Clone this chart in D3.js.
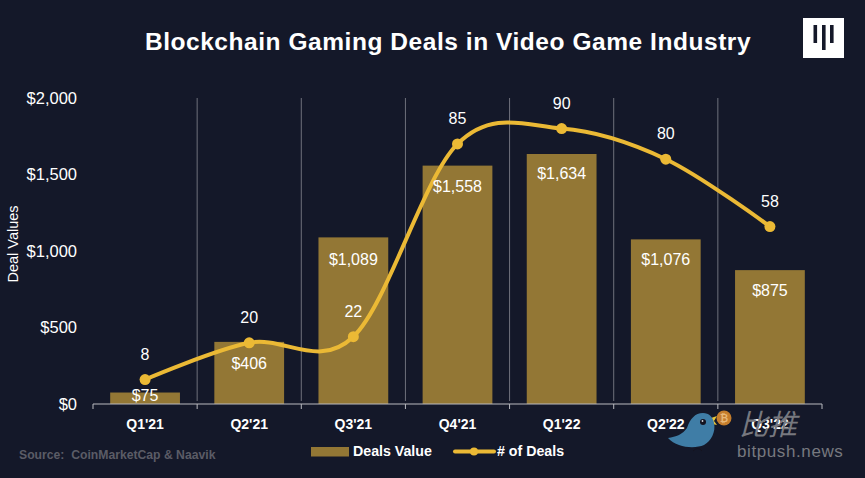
<!DOCTYPE html>
<html>
<head>
<meta charset="utf-8">
<script src="https://cdn.jsdelivr.net/npm/d3@7/dist/d3.min.js"></script>
<style>
  html, body { margin: 0; padding: 0; background: #141829; }
  svg { display: block; }
  text { font-family: "Liberation Sans", Arial, sans-serif; fill: #fff; }
</style>
</head>
<body>
<script>
var quarters = ["Q1'21", "Q2'21", "Q3'21", "Q4'21", "Q1'22", "Q2'22", "Q3'22"];
var dealValues = [75, 406, 1089, 1558, 1634, 1076, 875];
var dealCounts = [8, 20, 22, 85, 90, 80, 58];
var valueTicks = [0, 500, 1000, 1500, 2000];

var width = 865, height = 478;
var plotLeft = 93, plotRight = 822, plotTop = 98, plotBottom = 404;
var lineColor = '#ebb935';

var svg = d3.select('body').append('svg').attr('width', width).attr('height', height);

svg.append('rect').attr('width', width).attr('height', height).attr('fill', '#141829');

// Scales
var x = d3.scaleBand().domain(quarters).range([plotLeft, plotRight]).paddingInner(0.33).paddingOuter(0.165);
var band = d3.scaleBand().domain(quarters).range([plotLeft, plotRight]);
var yValue = d3.scaleLinear().domain([0, 2000]).range([plotBottom, plotTop]);
var yCount = d3.scaleLinear().domain([0, 100]).range([plotBottom, plotTop]);

function centre(i) {
    return band(quarters[i]) + band.bandwidth() / 2;
}

// Title
svg.append('text').attr('x', 448).attr('y', 50).attr('text-anchor', 'middle')
    .attr('font-size', 24.5).attr('font-weight', 'bold').style('letter-spacing', '0.55px')
    .text('Blockchain Gaming Deals in Video Game Industry');

// Logo
var logo = svg.append('g').attr('transform', 'translate(803,18)');
logo.append('rect').attr('width', 41).attr('height', 40).attr('fill', '#fff');
[[10.5, 7, 18], [19, 7, 25], [27, 7, 18]].forEach(function (d) {
    logo.append('rect').attr('x', d[0]).attr('y', d[1]).attr('width', 3.6).attr('height', d[2]).attr('fill', '#141829');
});

// Separators between the quarters
svg.append('g').selectAll('line').data(quarters.slice(1)).enter().append('line')
    .attr('x1', function (d) { return band(d); })
    .attr('x2', function (d) { return band(d); })
    .attr('y1', plotTop).attr('y2', plotBottom - 3)
    .attr('stroke', '#6f717c').attr('stroke-width', 1);

// Bars
svg.append('g').selectAll('rect').data(dealValues).enter().append('rect')
    .attr('x', function (d, i) { return x(quarters[i]); })
    .attr('y', function (d) { return yValue(d); })
    .attr('width', x.bandwidth())
    .attr('height', function (d) { return plotBottom - yValue(d); })
    .attr('fill', '#937735');

// Axes
var xAxis = svg.append('g').attr('transform', 'translate(0,' + plotBottom + ')')
    .call(d3.axisBottom(band).tickSize(0).tickPadding(15));
xAxis.select('.domain').remove();
xAxis.selectAll('text').attr('font-size', 14).attr('font-family', '"Liberation Sans", Arial, sans-serif')
    .style('font-weight', 'bold').style('fill', '#fff');
xAxis.append('line').attr('x1', plotLeft).attr('x2', plotRight).attr('stroke', '#b9bac0').attr('stroke-width', 1.2);
xAxis.selectAll('.sep').data(quarters.concat(['end'])).enter().append('line')
    .attr('x1', function (d, i) { return plotLeft + i * band.step(); })
    .attr('x2', function (d, i) { return plotLeft + i * band.step(); })
    .attr('y1', 0).attr('y2', 5)
    .attr('stroke', '#b9bac0').attr('stroke-width', 1);

var yAxis = svg.append('g').attr('transform', 'translate(77,0)')
    .call(d3.axisLeft(yValue).tickValues(valueTicks).tickSize(0).tickPadding(0)
        .tickFormat(function (d) { return '$' + d3.format(',')(d); }));
yAxis.select('.domain').remove();
yAxis.selectAll('text').attr('font-size', 16.5).attr('font-family', '"Liberation Sans", Arial, sans-serif')
    .style('fill', '#fff');

svg.append('text').attr('transform', 'translate(18,244) rotate(-90)').attr('text-anchor', 'middle')
    .attr('font-size', 14.5).text('Deal Values');

// Deal count line
var line = d3.line()
    .x(function (d, i) { return centre(i); })
    .y(function (d) { return yCount(d); })
    .curve(d3.curveCardinal.tension(0));

svg.append('path').datum(dealCounts).attr('d', line)
    .attr('fill', 'none').attr('stroke', lineColor).attr('stroke-width', 4).attr('stroke-linecap', 'round');

svg.append('g').selectAll('circle').data(dealCounts).enter().append('circle')
    .attr('cx', function (d, i) { return centre(i); })
    .attr('cy', function (d) { return yCount(d); })
    .attr('r', 5.5).attr('fill', lineColor);

// Value labels
var valueOffsets = [8, 27, 28, 26, 25, 26, 26];
svg.append('g').selectAll('text').data(dealValues).enter().append('text')
    .attr('x', function (d, i) { return centre(i); })
    .attr('y', function (d, i) { return yValue(d) + valueOffsets[i]; })
    .attr('text-anchor', 'middle').attr('font-size', 16).text(function (d) { return '$' + d3.format(',')(d); });

// Count labels
svg.append('g').selectAll('text').data(dealCounts).enter().append('text')
    .attr('x', function (d, i) { return centre(i); })
    .attr('y', function (d) { return yCount(d) - 20; })
    .attr('text-anchor', 'middle').attr('font-size', 16).text(function (d) { return d; });

// Source
svg.append('text').attr('x', 19).attr('y', 459).attr('font-size', 12.2).attr('font-weight', 'bold')
    .style('fill', '#5b5c66').style('white-space', 'pre').text('Source:  CoinMarketCap & Naavik');

// Legend
svg.append('rect').attr('x', 311).attr('y', 447).attr('width', 38).attr('height', 9.5).attr('fill', '#937735');
svg.append('text').attr('x', 353).attr('y', 456).attr('font-size', 14.2).attr('font-weight', 'bold').text('Deals Value');
svg.append('line').attr('x1', 455).attr('x2', 494).attr('y1', 451.5).attr('y2', 451.5)
    .attr('stroke', lineColor).attr('stroke-width', 4).attr('stroke-linecap', 'round');
svg.append('circle').attr('cx', 474).attr('cy', 451.5).attr('r', 4).attr('fill', lineColor);
svg.append('text').attr('x', 497).attr('y', 456).attr('font-size', 14.2).attr('font-weight', 'bold').text('# of Deals');

// Watermark
var mark = svg.append('g');
mark.append('path').attr('d', 'M711,418 L717,416 L714,421 L717,425 L712,424 Z').attr('fill', '#e8c53a');
mark.append('path')
    .attr('d', 'M668,438 C676,437 683,434 687,428 C690,419 695,413 703,413 C709,413 713,417 714,423 C716,432 711,441 704,445 C695,449 677,448 668,438 Z')
    .attr('fill', '#3f7da6');
mark.append('circle').attr('cx', 703).attr('cy', 422).attr('r', 3).attr('fill', '#15131f');
mark.append('circle').attr('cx', 702.5).attr('cy', 421).attr('r', 0.9).attr('fill', '#d5d6da');
mark.append('path').attr('d', 'M693,451 Q698,446 702,451').attr('fill', 'none').attr('stroke', '#15131f').attr('stroke-width', 1);
mark.append('circle').attr('cx', 724).attr('cy', 418).attr('r', 7.5).attr('fill', '#c57d2c');
mark.append('text').attr('x', 724).attr('y', 422).attr('text-anchor', 'middle').attr('font-size', 10)
    .attr('font-weight', 'bold').style('fill', '#e8b878').text('₿');
mark.append('text').attr('x', 739).attr('y', 435).attr('font-size', 29).attr('font-style', 'italic')
    .style('font-family', '"Noto Sans CJK SC"').style('fill', '#77787f').text('比推');
mark.append('text').attr('x', 737).attr('y', 456.5).attr('font-size', 17).style('letter-spacing', '0.6px')
    .style('fill', '#77787f').text('bitpush.news');
</script>
</body>
</html>
